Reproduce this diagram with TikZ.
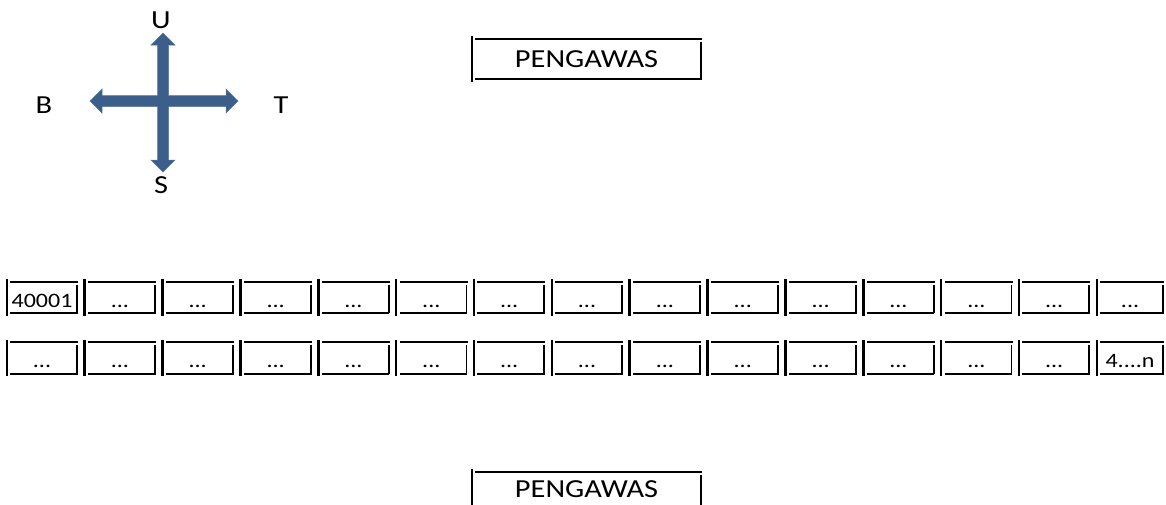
\documentclass[tikz,border=0pt]{standalone}
\usepackage{fontspec}
\setmainfont{Carlito}[FakeStretch=1.17]
\definecolor{compassblue}{RGB}{59,94,139}
\newcommand\dd{...}
\newcommand\myframe[1]{%
  \draw[edgethick] ([yshift=2.5pt]#1.north west) -- ([yshift=-2.5pt]#1.south west);
  \draw[edgethin] ([xshift=3.5pt]#1.north west) -- ([xshift=1pt]#1.north east);
  \draw[edgethin] ([yshift=-3pt]#1.north east) -- (#1.south east);
  \draw[edgethin] ([xshift=3.5pt]#1.south west) -- ([xshift=0.8pt]#1.south east);
}
\begin{document}
\begin{tikzpicture}[x=1pt,y=-1pt,
  cell/.style={inner sep=0pt, minimum width=#1, text height=25pt, text depth=6pt,
    font=\fontsize{20.5}{24}\selectfont},
  cell/.default=70pt,
  titlebox/.style={inner sep=0pt, minimum width=229pt, font=\fontsize{26}{30}\selectfont},
  dirlabel/.style={inner sep=0pt, anchor=base, font=\fontsize{26}{30}\selectfont},
  edgethick/.style={line width=2.6pt},
  edgethin/.style={line width=1.8pt},
  cross/.style={fill=compassblue, draw=compassblue!85!white, line width=0.5pt}]
\useasboundingbox (0,0) rectangle (1166,504);

% compass
\coordinate (c) at (163,101);
\fill[cross] (163,33) -- (175,45) -- (168.5,45) -- (168.5,95.5) -- (226,95.5) -- (226,89)
  -- (238,101) -- (226,113) -- (226,106.5) -- (168.5,106.5) -- (168.5,160) -- (175,160)
  -- (163,172) -- (151,160) -- (157.5,160) -- (157.5,106.5) -- (102,106.5) -- (102,113)
  -- (90,101) -- (102,89) -- (102,95.5) -- (157.5,95.5) -- (157.5,45) -- (151,45) -- cycle;
\node[dirlabel] (u) at (161,28) {U};
\node[dirlabel] (b) at (44,113) {B};
\node[dirlabel] (t) at (281,113) {T};
\node[dirlabel] (s) at (161,193) {S};

% titles
\node[titlebox, text height=28pt, text depth=12pt] (p1) at (586.5,59) {PENGAWAS};
\myframe{p1}
\node[titlebox, text height=25pt, text depth=13pt] (p2) at (586.5,491) {PENGAWAS};
\myframe{p2}

% cells
\foreach \i in {0,...,14}{
  \pgfmathsetmacro\w{\i==14 ? 66 : 70}
  \pgfmathsetmacro\cx{7+77.86*\i+\w/2}
  \node[cell=\w pt] (a\i) at (\cx,297.5) {\ifnum\i=0 40001\else\dd\fi};
  \node[cell=\w pt] (r\i) at (\cx,358) {\ifnum\i=14 4....n\else\dd\fi};
  \myframe{a\i}
  \myframe{r\i}
}
\end{tikzpicture}
\end{document}
